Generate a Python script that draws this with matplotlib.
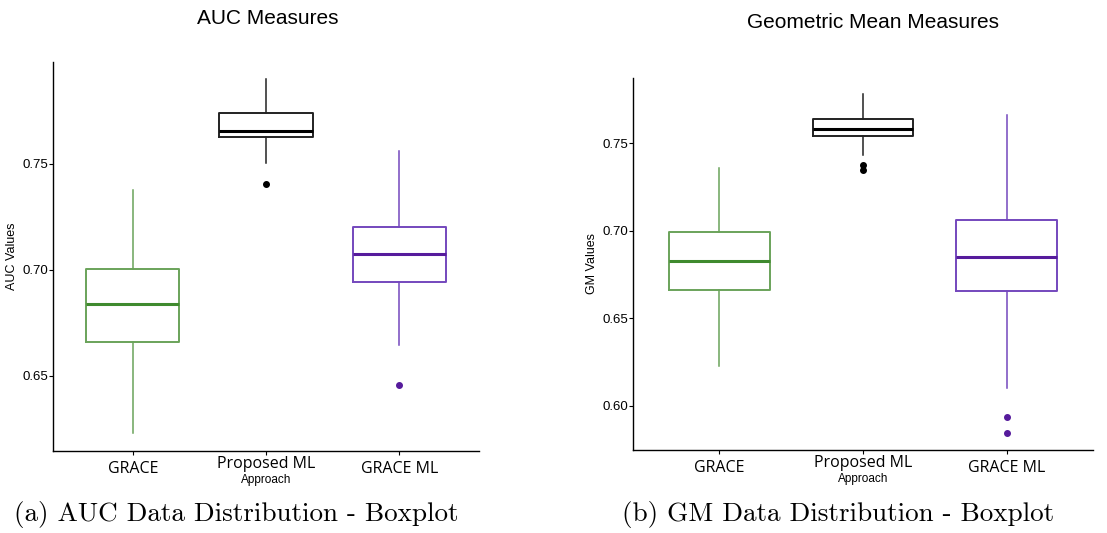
import matplotlib.pyplot as plt

categories = ['GRACE', 'Proposed ML', 'GRACE ML']

# AUC box stats (whislo, q1, med, q3, whishi) and outliers
auc_whislo = [0.6231, 0.7506, 0.6646]
auc_q1 = [0.6662, 0.7627, 0.6945]
auc_med = [0.6840, 0.7656, 0.7073]
auc_q3 = [0.7005, 0.7740, 0.7204]
auc_whishi = [0.7377, 0.7900, 0.7561]
auc_fliers = [[], [0.7406], [0.6458]]

# GM box stats
gm_whislo = [0.6227, 0.7433, 0.6100]
gm_q1 = [0.6662, 0.7543, 0.6657]
gm_med = [0.6830, 0.7579, 0.6851]
gm_q3 = [0.6993, 0.7639, 0.7063]
gm_whishi = [0.7357, 0.7780, 0.7662]
gm_fliers = [[], [0.7378, 0.7347], [0.5937, 0.5842]]

box_colors = ['#6aa35a', '#222222', '#7448bd']
med_colors = ['#3f8a2e', '#000000', '#561b9c']


def make_stats(lo, q1, med, q3, hi, fl):
    return [dict(whislo=lo[i], q1=q1[i], med=med[i], q3=q3[i], whishi=hi[i],
                 fliers=fl[i], label=categories[i]) for i in range(len(categories))]


def draw(ax, stats, ylim, yticks, ylabel):
    for i, st in enumerate(stats):
        c = box_colors[i]
        ax.bxp([st], positions=[i + 1], widths=0.7, showcaps=False,
               boxprops=dict(color=c, linewidth=1.4),
               whiskerprops=dict(color=c, linewidth=1.1),
               medianprops=dict(color=med_colors[i], linewidth=2.2),
               flierprops=dict(marker='o', markersize=4, markerfacecolor=med_colors[i],
                               markeredgecolor=med_colors[i]))
    ax.set_xlim(0.4, 3.6)
    ax.set_ylim(*ylim)
    ax.set_yticks(yticks)
    ax.set_yticklabels([f'{t:.2f}' for t in yticks], fontsize=9.5, family='Liberation Sans')
    ax.set_xticks([1, 2, 3])
    ax.set_xticklabels(categories, fontsize=11.5, family='Open Sans')
    ax.tick_params(length=3, width=0.8)
    ax.tick_params(axis='y', pad=0.5)
    ax.tick_params(axis='x', pad=4)
    # the middle label sits a bit higher, above the axis title
    ax.xaxis.get_major_ticks()[1].set_pad(0.5)
    for s in ['top', 'right']:
        ax.spines[s].set_visible(False)
    for s in ['left', 'bottom']:
        ax.spines[s].set_linewidth(1.0)
    ax.set_ylabel(ylabel, fontsize=9, family='Liberation Sans', labelpad=3)
    ax.set_xlabel('Approach', fontsize=8.5, family='Liberation Sans', labelpad=-2)


fig = plt.figure(figsize=(11.07, 5.33), dpi=100)

ax1 = fig.add_axes([0.0479, 0.1538, 0.3848, 0.7299])
draw(ax1, make_stats(auc_whislo, auc_q1, auc_med, auc_q3, auc_whishi, auc_fliers),
     (0.6146, 0.798), [0.65, 0.70, 0.75], 'AUC Values')

ax2 = fig.add_axes([0.5718, 0.1557, 0.4156, 0.6985])
draw(ax2, make_stats(gm_whislo, gm_q1, gm_med, gm_q3, gm_whishi, gm_fliers),
     (0.5747, 0.7875), [0.60, 0.65, 0.70, 0.75], 'GM Values')

fig.text(268 / 1107, 1 - 18 / 533, 'AUC Measures', ha='center', va='center',
         fontsize=15, family='Liberation Sans')
fig.text(873 / 1107, 1 - 22 / 533, 'Geometric Mean Measures', ha='center', va='center',
         fontsize=15, family='Liberation Sans')

fig.text(236 / 1107, 1 - 515 / 533, '(a) AUC Data Distribution - Boxplot', ha='center',
         va='center', fontsize=19.5, family='cmr10')
fig.text(838 / 1107, 1 - 515 / 533, '(b) GM Data Distribution - Boxplot', ha='center',
         va='center', fontsize=19.5, family='cmr10')

fig.savefig('out.png', dpi=100)
